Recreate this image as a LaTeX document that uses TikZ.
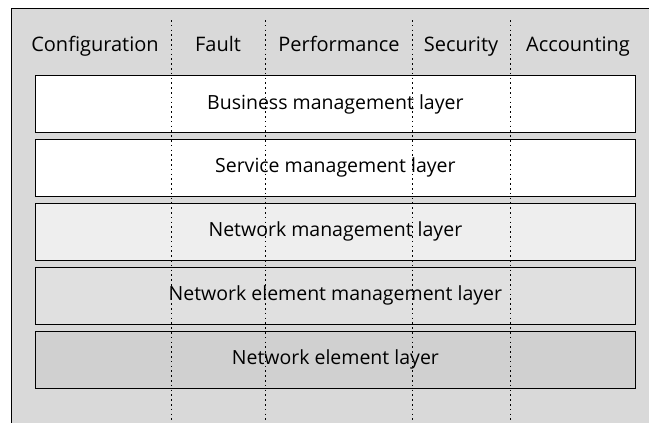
\documentclass[tikz,border=0pt]{standalone}
\usepackage{fontspec}
\setmainfont{Open Sans}
\usetikzlibrary{positioning}
\definecolor{bggray}{HTML}{D9D9D9}
\definecolor{nmgray}{HTML}{EEEEEE}
\definecolor{nemgray}{HTML}{E0E0E0}
\definecolor{negray}{HTML}{D0D0D0}
\begin{document}
\begin{tikzpicture}[x=1pt,y=-1pt,
    layer/.style={draw, line width=0.9pt, minimum width=600pt, minimum height=57pt,
                  inner sep=0pt, font=\fontsize{19.5}{22}\selectfont},
    area/.style={inner sep=0pt, anchor=base, font=\fontsize{20}{23}\selectfont},
    divider/.style={line width=0.8pt, dash pattern=on 1.6pt off 3.2pt}]

                \useasboundingbox (0,0) rectangle (649,423);
                \fill[bggray] (11,8) rectangle (649,423);
                \draw[line width=0.9pt] (11,430) -- (11,8) -- (649,8);

                % management areas
                \node[area] (conf) at (95,52)  {Configuration};
                \node[area] (fault) at (218,52) {Fault};
                \node[area] (perf) at (339,52) {Performance};
                \node[area] (secu) at (461,52) {Security};
                \node[area] (acct) at (578,52) {Accounting};

                % layers
                \node[layer, fill=white] (bml) at (335.4,104) {Business management layer};
                \node[layer, fill=white] (sml) [below = 6pt of bml] {Service management layer};
                \node[layer, fill=nmgray] (nml) [below = 6pt of sml] {Network management layer};
                \node[layer, fill=nemgray] (neml) [below = 6pt of nml] {Network element management layer};
                \node[layer, fill=negray] (nel) [below = 6pt of neml] {Network element layer};

                % dividers
                \foreach \name/\x in {d_1/171, d_2/265, d_3/412, d_4/510} {
                    \coordinate (\name_t) at (\x,20);
                    \coordinate (\name_b) at (\x,423);
                    \draw[divider] (\name_t) -- (\name_b);
                }

\end{tikzpicture}
\end{document}
